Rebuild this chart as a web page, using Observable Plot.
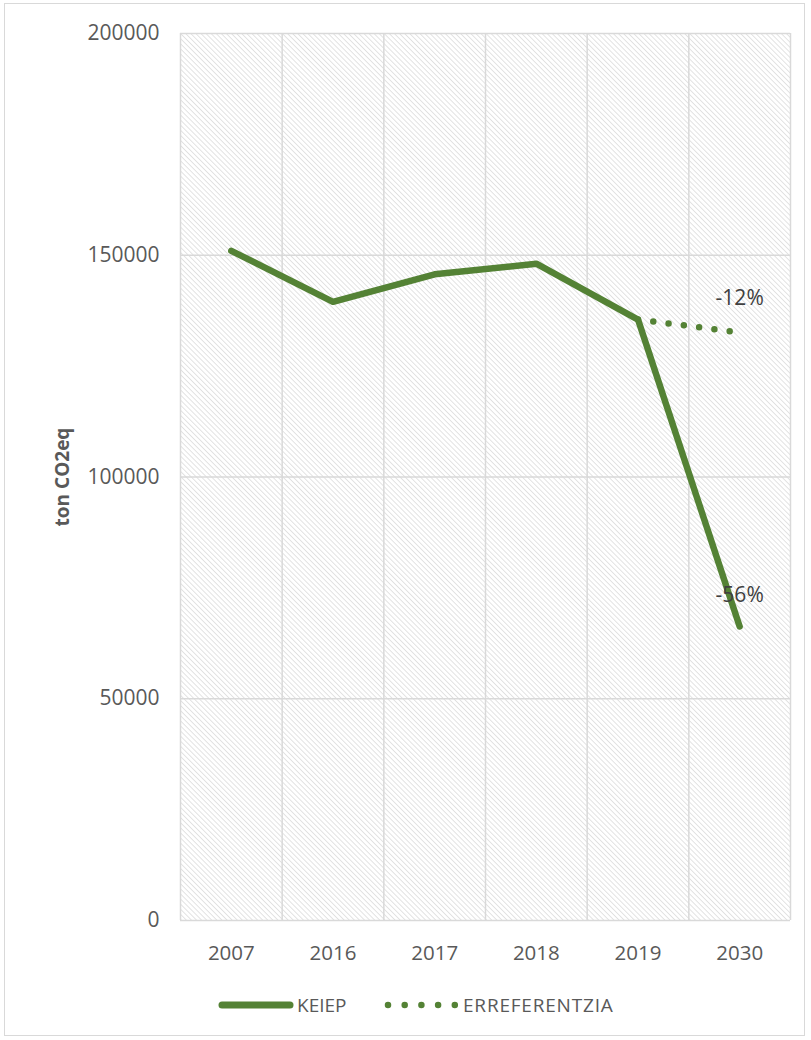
<!DOCTYPE html>
<html>
<head>
<meta charset="utf-8">
<script src="https://cdn.jsdelivr.net/npm/d3@7"></script>
<script src="https://cdn.jsdelivr.net/npm/@observablehq/plot@0.6"></script>
<style>
  html, body { margin: 0; padding: 0; background: #fff; }
  #frame { position: absolute; left: 4px; top: 3px; width: 801px; height: 1033px; border: 1px solid #d9d9d9; box-sizing: border-box; }
  #chart { position: absolute; left: 0; top: 0; }
  #legend { position: absolute; left: 0; top: 990px; width: 811px; height: 30px; font-family: "Open Sans", sans-serif; font-size: 19px; color: #595959; }
  #legend .item { position: absolute; top: 0; display: flex; align-items: center; height: 30px; }
</style>
</head>
<body>
<div id="frame"></div>
<div id="chart"></div>
<div id="legend">
  <div class="item" style="left:217px"><svg width="78" height="12"><line x1="5" y1="6" x2="73" y2="6" stroke="#548235" stroke-width="7" stroke-linecap="round"/></svg><span style="margin-left:2px">KEIEP</span></div>
  <div class="item" style="left:383px"><svg width="78" height="12"><line x1="5" y1="6" x2="72" y2="6" stroke="#548235" stroke-width="6.5" stroke-linecap="round" stroke-dasharray="0 16.7"/></svg><span style="margin-left:2px; letter-spacing:0.8px">ERREFERENTZIA</span></div>
</div>
<script>
const years = ["2007", "2016", "2017", "2018", "2019", "2030"];
const keiep = [151000, 139500, 145700, 148100, 135500, 66300];
const refYears = ["2019", "2030"];
const erreferentzia = [135500, 132600];
const yTicks = [0, 50000, 100000, 150000, 200000];
const labels = [
  {year: "2030", value: 132600, text: "-12%", dy: -34},
  {year: "2030", value: 66300, text: "-56%", dy: -31}
];

const green = "#548235";
const idx = y => years.indexOf(y);
const keiepData = years.map((y, i) => ({i, v: keiep[i]}));
const refData = refYears.map((y, k) => ({i: idx(y), v: erreferentzia[k]}));
const boundaries = d3.range(-0.5, years.length, 1);

const chart = Plot.plot({
  width: 811,
  height: 975,
  marginLeft: 180,
  marginRight: 21,
  marginTop: 33,
  marginBottom: 55,
  style: {fontFamily: "Open Sans, sans-serif", background: "transparent", overflow: "visible"},
  x: {type: "linear", domain: [-0.5, years.length - 0.5]},
  y: {domain: [0, 200000]},
  marks: [
    Plot.frame({fill: "url(#hatch)", stroke: null}),
    Plot.gridX(boundaries, {stroke: "#d9d9d9", strokeOpacity: 1, strokeWidth: 1.5}),
    Plot.gridY(yTicks, {stroke: "#d9d9d9", strokeOpacity: 1, strokeWidth: 1.5}),
    Plot.axisX(d3.range(years.length), {tickSize: 0, tickPadding: 25, tickFormat: i => years[i], fontSize: 20.5, fill: "#595959", label: null}),
    Plot.axisY(yTicks, {tickSize: 0, tickPadding: 21, tickFormat: d => String(d), fontSize: 21, fill: "#595959", label: null}),
    Plot.line(refData, {x: "i", y: "v", stroke: green, strokeWidth: 6.5, strokeLinecap: "round", strokeDasharray: "0 15.4"}),
    Plot.line(keiepData, {x: "i", y: "v", stroke: green, strokeWidth: 6.5, strokeLinecap: "round", strokeLinejoin: "round"}),
    ...labels.map(l => Plot.text([l], {x: d => idx(d.year), y: "value", text: "text", dy: l.dy, fontSize: 21, fill: "#404040"})),
    Plot.text(["ton CO2eq"], {frameAnchor: "left", textAnchor: "middle", dx: -118, rotate: -90, fontSize: 19, fontWeight: "bold", fill: "#595959"})
  ]
});

const svg = d3.select(chart);
const defs = svg.insert("defs", ":first-child");
const pat = defs.append("pattern")
  .attr("id", "hatch")
  .attr("patternUnits", "userSpaceOnUse")
  .attr("width", 3.6)
  .attr("height", 3.6)
  .attr("patternTransform", "rotate(45)");
pat.append("rect").attr("width", 3.6).attr("height", 3.6).attr("fill", "#ffffff");
pat.append("line").attr("x1", 0).attr("y1", 0).attr("x2", 3.6).attr("y2", 0)
  .attr("stroke", "#cdcdcd").attr("stroke-width", 1.1);

document.getElementById("chart").appendChild(chart);
</script>
</body>
</html>
